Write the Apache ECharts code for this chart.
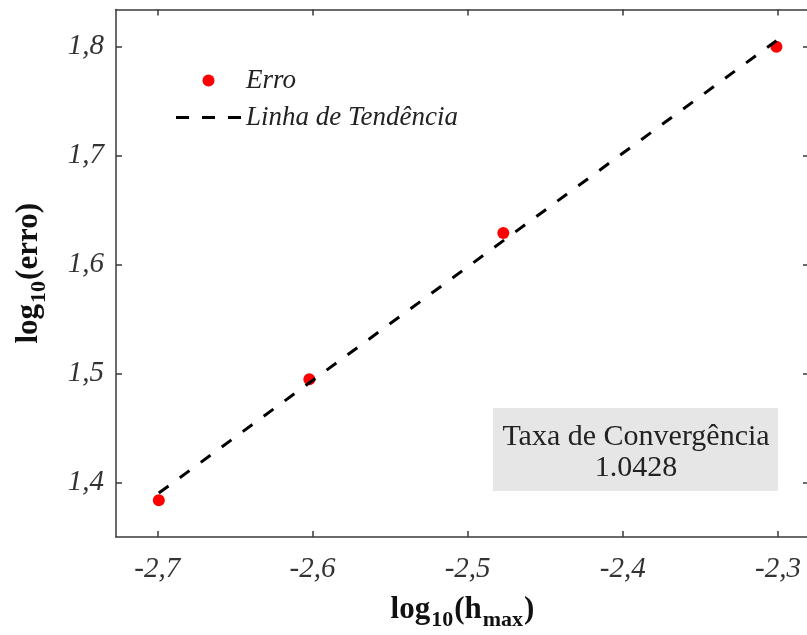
<!DOCTYPE html>
<html>
<head>
<meta charset="utf-8">
<script src="https://cdn.jsdelivr.net/npm/echarts@6/dist/echarts.min.js"></script>
<style>html,body{margin:0;padding:0;background:#fff;}#c{width:807px;height:635px;}</style>
</head>
<body>
<div id="c"></div>
<script>
const errX = [-2.699, -2.602, -2.477, -2.301];
const errY = [1.384, 1.495, 1.629, 1.800];
const trendX = [-2.699, -2.301];
const trendY = [1.3905, 1.8055];
const xTicks = [-2.7, -2.6, -2.5, -2.4, -2.3];
const yTicks = [1.4, 1.5, 1.6, 1.7, 1.8];
const rate = '1.0428';

const serif = '"Liberation Serif", "Times New Roman", serif';
const axisColor = '#3a3a3a';
const fmt = v => Number(v).toFixed(1).replace('.', ',');

const chart = echarts.init(document.getElementById('c'));
const xRange = {min: -2.7266, max: -2.28};
const yRange = {min: 1.3502, max: 1.8341};

const nameRich = {
  a: {fontFamily: serif, fontWeight: 'bold', fontSize: 31, color: '#111', lineHeight: 42, verticalAlign: 'middle'},
  s: {fontFamily: serif, fontWeight: 'bold', fontSize: 22, color: '#111', lineHeight: 42, verticalAlign: 'bottom', padding: [16, 1, 0, 1]}
};

function mkX(pos, show) {
  return {
    type: 'value', position: pos, min: xRange.min, max: xRange.max,
    axisLine: {show: true, onZero: false, lineStyle: {color: axisColor, width: 1.5}},
    axisTick: {show: true, inside: true, length: 6, customValues: xTicks, lineStyle: {color: axisColor, width: 1.5}},
    axisLabel: {show: show, customValues: xTicks, formatter: fmt, fontFamily: serif, fontStyle: 'italic', fontSize: 29, color: '#333', margin: 18},
    splitLine: {show: false},
    name: show ? '{a|log}{s|10}{a|(h}{s|max}{a|)}' : '',
    nameLocation: 'middle', nameGap: 52,
    nameTextStyle: {rich: nameRich}
  };
}
function mkY(pos, show) {
  return {
    type: 'value', position: pos, min: yRange.min, max: yRange.max,
    axisLine: {show: true, onZero: false, lineStyle: {color: axisColor, width: 1.5}},
    axisTick: {show: true, inside: true, length: 6, customValues: yTicks, lineStyle: {color: axisColor, width: 1.5}},
    axisLabel: {show: show, customValues: yTicks, formatter: fmt, fontFamily: serif, fontStyle: 'italic', fontSize: 29, color: '#333', margin: 12},
    splitLine: {show: false},
    name: show ? '{a|log}{s|10}{a|(erro)}' : '',
    nameLocation: 'middle', nameGap: 66, nameRotate: 90,
    nameTextStyle: {rich: nameRich}
  };
}

chart.setOption({
  animation: false,
  backgroundColor: '#fff',
  grid: {left: 116, top: 9.5, bottom: 98, right: -2, containLabel: false, outerBoundsMode: 'none'},
  xAxis: [mkX('bottom', true), mkX('top', false)],
  yAxis: [mkY('left', true), mkY('right', false)],
  legend: {
    orient: 'vertical', left: 171, top: 62, itemWidth: 65, itemHeight: 12, itemGap: 10,
    symbolKeepAspect: true,
    data: [
      {name: 'Erro', icon: 'circle'},
      {name: 'Linha de Tendência', icon: 'path://M0,0h13v3.2h-13zM26,0h13v3.2h-13zM52,0h13v3.2h-13z'}
    ],
    textStyle: {fontFamily: serif, fontStyle: 'italic', fontSize: 27, color: '#222'},
    itemStyle: {borderWidth: 0}
  },
  graphic: [
    {type: 'rect', x: 493, y: 408, shape: {width: 285, height: 83}, style: {fill: '#e6e6e6'}, z: 1},
    {type: 'text', x: 636, y: 453,
     style: {text: 'Taxa de Convergência\n' + rate, font: '30px "Liberation Serif"', fill: '#222', align: 'center', verticalAlign: 'middle', lineHeight: 31}, z: 2}
  ],
  series: [
    {name: 'Erro', type: 'scatter', symbol: 'circle', symbolSize: 12,
     itemStyle: {color: '#ff0000', opacity: 1}, data: errX.map((x, i) => [x, errY[i]]), z: 3},
    {name: 'Linha de Tendência', type: 'line', showSymbol: false, symbol: 'none',
     lineStyle: {color: '#000', width: 3, type: [12, 14]}, itemStyle: {color: '#000'},
     data: trendX.map((x, i) => [x, trendY[i]]), z: 4}
  ]
});
</script>
</body>
</html>
